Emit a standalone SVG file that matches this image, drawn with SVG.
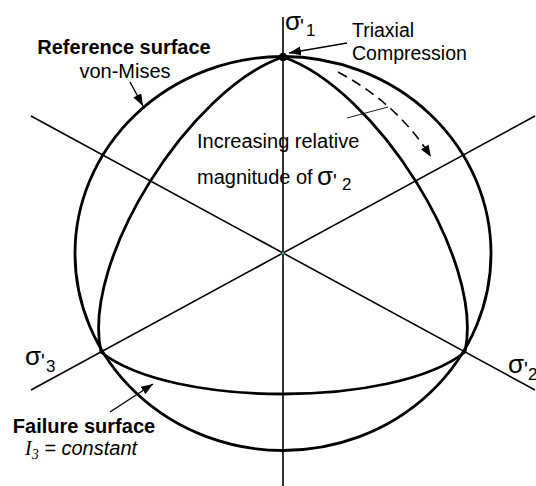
<svg xmlns="http://www.w3.org/2000/svg" width="536" height="486" viewBox="0 0 536 486">
<style>
.axis{stroke:#000;stroke-width:1.6;fill:none}
.surf{stroke:#000;stroke-width:2.8;fill:none}
.lead{stroke:#000;stroke-width:1.4;fill:none}
.thin{stroke:#000;stroke-width:0.9;fill:none}
.dash{stroke:#000;stroke-width:1.6;fill:none;stroke-dasharray:10 6}
text{font-family:"Liberation Sans",Arial,sans-serif;fill:#000}
.lbl{font-size:20px}
.tri{font-size:19.5px}
.bold{font-size:20px;font-weight:bold}
.sig{font-size:26px}
.pr{font-size:20px}
.sub{font-size:17px}
.it{font-style:italic}
.ser{font-family:"Liberation Serif","Times New Roman",serif;font-style:italic}
</style>
<defs>
<marker id="ah" markerUnits="userSpaceOnUse" markerWidth="13" markerHeight="10" refX="12" refY="4.5" orient="auto"><path d="M0,0 L12,4.5 L0,9 Z" fill="#000"/></marker>
</defs>
<g id="axes">
<path class="axis" d="M283,17 V486"/>
<path class="axis" d="M31,116 L535,390"/>
<path class="axis" d="M31,390 L535,116"/>
</g>
<g id="reference-surface">
<ellipse class="surf" cx="283" cy="253.5" rx="208" ry="197"/>
</g>
<g id="failure-surface">
<path class="surf" d="M283,57 C375,88 485,260 465,352 C395,408 171,408 101,352 C81,260 191,88 283,57 Z"/>
</g>
<g id="points">
<circle cx="283" cy="57" r="4.2" fill="#000"/>
<circle cx="283" cy="253.3" r="1.4" fill="#26a69a"/>
</g>
<g id="connectors">
<path class="lead" d="M130,82 L143,106" marker-end="url(#ah)"/>
<path class="lead" d="M110,412 L153,384" marker-end="url(#ah)"/>
<path class="lead" d="M347,43 L289,53" marker-end="url(#ah)"/>
<path class="dash" d="M338,72 Q398,104 431,157" marker-end="url(#ah)"/>
<path class="thin" d="M347,118 L388,107"/>
</g>
<g id="labels">
<text class="sig" x="285" y="30">σ</text><text class="pr" x="300" y="33">'</text><text class="sub" x="306" y="36">1</text>
<text class="sig" x="25" y="365">σ</text><text class="pr" x="41" y="368">'</text><text class="sub" x="46" y="372">3</text>
<text class="sig" x="508" y="373">σ</text><text class="pr" x="524" y="376">'</text><text class="sub" x="528" y="380">2</text>
<text class="tri" x="352" y="37">Triaxial</text>
<text class="tri" x="352" y="60">Compression</text>
<text class="bold" x="124" y="54" text-anchor="middle">Reference surface</text>
<text class="lbl" x="125" y="78" text-anchor="middle">von-Mises</text>
<text class="lbl" x="197" y="148">Increasing relative</text>
<text class="lbl" x="197" y="184">magnitude of </text>
<text class="sig" x="317" y="185">σ</text><text class="pr" x="333" y="188">'</text><text class="sub" x="342" y="190">2</text>
<text class="bold" x="84" y="433" text-anchor="middle">Failure surface</text>
<text class="lbl it" x="25" y="455"><tspan class="ser">I</tspan><tspan class="ser" font-size="14" dy="4">3</tspan><tspan dy="-4"> = constant</tspan></text>
</g>
</svg>
